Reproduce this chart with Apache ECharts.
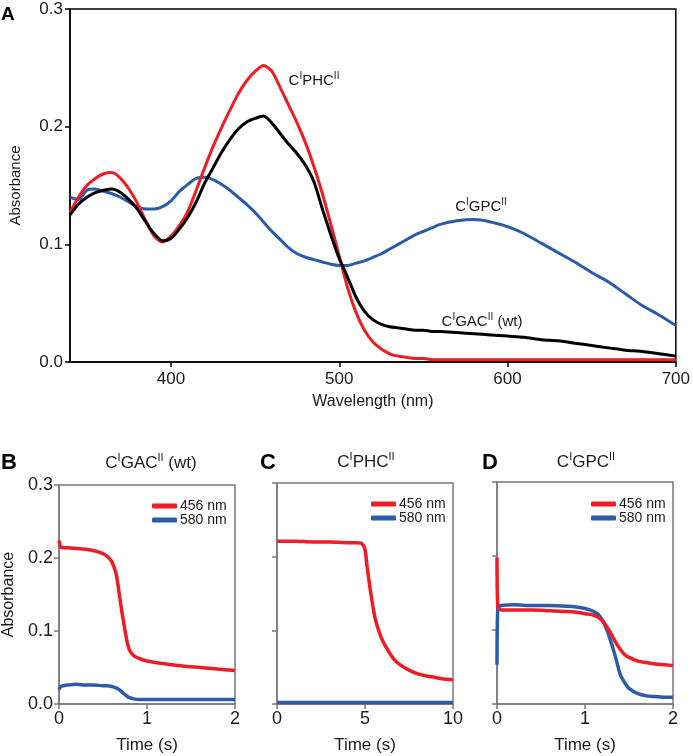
<!DOCTYPE html>
<html>
<head>
<meta charset="utf-8">
<script src="https://cdn.jsdelivr.net/npm/echarts@6/dist/echarts.min.js"></script>
<style>
  html, body { margin: 0; padding: 0; background: #fff; }
  #chart { width: 693px; height: 756px; }
</style>
</head>
<body>
<div id="chart"></div>
<script>
// ---------- Panel A: spectra ----------
const wavelengths = [340,345,350,355,360,365,370,375,380,385,390,395,400,405,410,415,420,425,430,435,440,445,450,455,460,465,470,475,480,485,490,495,500,505,510,515,520,525,530,535,540,545,550,555,560,570,580,590,600,610,620,630,640,650,660,670,680,690,700];
const specPHC = [0.127,0.140,0.150,0.156,0.160,0.161,0.156,0.147,0.135,0.120,0.107,0.102,0.107,0.116,0.128,0.146,0.165,0.183,0.199,0.214,0.228,0.239,0.247,0.252,0.247,0.233,0.218,0.203,0.186,0.166,0.143,0.117,0.090,0.063,0.042,0.027,0.017,0.011,0.007,0.005,0.004,0.003,0.003,0.002,0.002,0.002,0.002,0.002,0.002,0.002,0.002,0.002,0.002,0.002,0.002,0.002,0.002,0.002,0.002];
const specGAC = [0.125,0.134,0.140,0.144,0.146,0.147,0.144,0.138,0.130,0.119,0.109,0.103,0.105,0.113,0.123,0.136,0.152,0.165,0.178,0.189,0.198,0.204,0.207,0.209,0.203,0.194,0.185,0.177,0.167,0.153,0.130,0.108,0.088,0.072,0.055,0.043,0.036,0.032,0.030,0.029,0.028,0.027,0.027,0.026,0.026,0.025,0.024,0.023,0.022,0.021,0.019,0.018,0.016,0.014,0.012,0.010,0.009,0.007,0.005];
const specGPC = [0.140,0.138,0.146,0.147,0.145,0.143,0.140,0.136,0.132,0.130,0.130,0.132,0.137,0.145,0.151,0.156,0.157,0.155,0.151,0.146,0.140,0.134,0.127,0.119,0.111,0.104,0.097,0.092,0.089,0.087,0.085,0.083,0.082,0.082,0.084,0.086,0.089,0.092,0.096,0.100,0.104,0.108,0.111,0.114,0.117,0.120,0.121,0.119,0.115,0.109,0.101,0.093,0.085,0.076,0.068,0.058,0.048,0.040,0.031];
const wavelengthTicks = [400,500,600,700];

// ---------- Panel B: CIGACII (wt) kinetics ----------
const timeB = [0,0.02,0.05,0.1,0.2,0.3,0.4,0.5,0.55,0.6,0.65,0.68,0.7,0.72,0.74,0.76,0.78,0.8,0.85,0.9,1.0,1.2,1.4,1.6,1.8,2.0];
const b456 = [0.224,0.215,0.214,0.214,0.213,0.212,0.210,0.206,0.202,0.195,0.178,0.155,0.138,0.122,0.108,0.094,0.082,0.074,0.066,0.063,0.059,0.055,0.052,0.050,0.048,0.046];
const b580 = [0.020,0.024,0.025,0.026,0.027,0.026,0.026,0.025,0.025,0.024,0.022,0.020,0.018,0.016,0.014,0.012,0.010,0.009,0.007,0.006,0.006,0.006,0.006,0.006,0.006,0.006];

// ---------- Panel C: CIPHCII kinetics ----------
const timeC = [0,0.5,1,2,3,4,4.5,4.8,5.0,5.1,5.2,5.3,5.4,5.5,5.6,5.8,6.0,6.3,6.6,7.0,7.5,8.0,8.5,9.0,9.5,10];
const c456 = [0.221,0.221,0.221,0.220,0.220,0.219,0.219,0.218,0.210,0.190,0.172,0.155,0.140,0.125,0.114,0.098,0.086,0.073,0.062,0.053,0.046,0.041,0.038,0.036,0.034,0.033];
const c580 = [0.002,0.002,0.002,0.002,0.002,0.002,0.002,0.002,0.002,0.002,0.002,0.002,0.002,0.002,0.002,0.002,0.002,0.002,0.002,0.002,0.002,0.002,0.002,0.002,0.002,0.002];

// ---------- Panel D: CIGPCII kinetics ----------
const timeD = [0,0.01,0.05,0.2,0.4,0.6,0.8,0.9,1.0,1.1,1.15,1.2,1.25,1.3,1.35,1.4,1.45,1.5,1.6,1.7,1.8,1.9,2.0];
const d456 = [0.198,0.132,0.127,0.127,0.127,0.126,0.125,0.124,0.122,0.120,0.117,0.112,0.104,0.094,0.083,0.074,0.067,0.063,0.058,0.056,0.054,0.053,0.052];
const d580 = [0.053,0.130,0.133,0.134,0.133,0.133,0.132,0.131,0.129,0.125,0.121,0.113,0.100,0.082,0.062,0.040,0.029,0.021,0.014,0.011,0.010,0.009,0.009];

const legendNames = ['456 nm', '580 nm'];

const RED = '#ee1d24';
const BLUE = '#2a5caa';
const BLACK = '#000000';
const FONT = '"Liberation Sans", Arial, Helvetica, sans-serif';
const TXT = '#1a1a1a';

function pairs(xs, ys) { return xs.map((x, i) => [x, ys[i]]); }

const chart = echarts.init(document.getElementById('chart'), null, { renderer: 'canvas' });

const grids = [
  { left: 63, top: 9, width: 617, height: 353, show: true, borderColor: '#000', borderWidth: 1.5, backgroundColor: 'transparent' },
  { left: 58, top: 485, width: 177, height: 219, show: true, borderColor: '#7a7a7a', borderWidth: 1.5 },
  { left: 277, top: 483, width: 176, height: 221, show: true, borderColor: '#7a7a7a', borderWidth: 1.5 },
  { left: 497, top: 482, width: 176, height: 222, show: true, borderColor: '#7a7a7a', borderWidth: 1.5 }
];

function kinX(idx, max, interval) {
  return {
    gridIndex: idx, type: 'value', min: 0, max: max, interval: interval,
    axisLine: { show: true, lineStyle: { color: '#7a7a7a', width: 1.5 } },
    axisTick: { show: true, inside: false, length: 5, lineStyle: { color: '#7a7a7a', width: 1.5 } },
    axisLabel: { fontFamily: FONT, fontSize: 18, color: TXT, margin: 6 },
    splitLine: { show: false },
    name: 'Time (s)', nameLocation: 'middle', nameGap: 33,
    nameTextStyle: { fontFamily: FONT, fontSize: 17, color: TXT }
  };
}
function kinY(idx, showLabels) {
  const y = {
    gridIndex: idx, type: 'value', min: 0, max: 0.3, interval: 0.1,
    axisLine: { show: true, lineStyle: { color: '#7a7a7a', width: 1.5 } },
    axisTick: { show: true, length: 5, lineStyle: { color: '#7a7a7a', width: 1.5 } },
    axisLabel: { show: showLabels, fontFamily: FONT, fontSize: 18, color: TXT, margin: 6,
      formatter: v => v.toFixed(1) },
    splitLine: { show: false }
  };
  if (showLabels) {
    y.name = 'Absorbance'; y.nameLocation = 'middle'; y.nameGap = 42;
    y.nameTextStyle = { fontFamily: FONT, fontSize: 16, color: TXT };
  }
  return y;
}

const xAxes = [
  {
    gridIndex: 0, type: 'value', min: 340, max: 700,
    axisLine: { show: true, lineStyle: { color: '#000', width: 1.5 } },
    axisTick: { show: true, length: 5, customValues: wavelengthTicks, lineStyle: { color: '#000', width: 1.5 } },
    axisLabel: { customValues: wavelengthTicks, fontFamily: FONT, fontSize: 17, color: TXT, margin: 9 },
    splitLine: { show: false },
    name: 'Wavelength (nm)', nameLocation: 'middle', nameGap: 32,
    nameTextStyle: { fontFamily: FONT, fontSize: 16, color: TXT }
  },
  kinX(1, 2, 1), kinX(2, 10, 5), kinX(3, 2, 1)
];
const yAxes = [
  {
    gridIndex: 0, type: 'value', min: 0, max: 0.3, interval: 0.1,
    axisLine: { show: true, lineStyle: { color: '#000', width: 1.5 } },
    axisTick: { show: true, length: 5, lineStyle: { color: '#000', width: 1.5 } },
    axisLabel: { fontFamily: FONT, fontSize: 17, color: TXT, margin: 7, formatter: v => v.toFixed(1) },
    splitLine: { show: false },
    name: 'Absorbance', nameLocation: 'middle', nameGap: 47,
    nameTextStyle: { fontFamily: FONT, fontSize: 15, color: TXT }
  },
  kinY(1, true), kinY(2, false), kinY(3, false)
];

function line(name, xi, data, color, width, z) {
  return {
    type: 'line', name: name, xAxisIndex: xi, yAxisIndex: xi, data: data,
    showSymbol: false, symbol: 'none', smooth: 0.25, clip: true,
    lineStyle: { color: color, width: width }, itemStyle: { color: color }, z: z || 2
  };
}

const series = [
  line('CIGPCII', 0, pairs(wavelengths, specGPC), BLUE, 3, 2),
  line('CIPHCII', 0, pairs(wavelengths, specPHC), RED, 3, 3),
  line('CIGACII (wt)', 0, pairs(wavelengths, specGAC), BLACK, 3, 4),
  line('456 nm', 1, pairs(timeB, b456), RED, 3.5, 3),
  line('580 nm', 1, pairs(timeB, b580), BLUE, 3.5, 3),
  line('456 nm', 2, pairs(timeC, c456), RED, 3.5, 3),
  line('580 nm', 2, pairs(timeC, c580), BLUE, 3.5, 3),
  line('580 nm', 3, pairs(timeD, d580), BLUE, 3.5, 2),
  line('456 nm', 3, pairs(timeD, d456), RED, 3.5, 3)
];

function legendAt(left, top) {
  return {
    data: legendNames, left: left, top: top, orient: 'vertical', itemGap: 0,
    itemWidth: 25, itemHeight: 5, icon: 'roundRect', selectedMode: false,
    textStyle: { fontFamily: FONT, fontSize: 14, color: TXT, padding: [0, 0, 0, -2] }
  };
}

function richLabel(parts) {
  return parts.map(p => '{' + (p[1] ? 's' : 'n') + '|' + p[0] + '}').join('');
}
function richStyle(size, supSize) {
  return {
    n: { fontFamily: FONT, fontSize: size, lineHeight: size + 2, fill: TXT, verticalAlign: 'bottom' },
    s: { fontFamily: FONT, fontSize: supSize, lineHeight: supSize, fill: TXT, verticalAlign: 'top' }
  };
}
function richText(x, y, parts, size, supSize) {
  return {
    type: 'text', x: x, y: y,
    style: {
      text: richLabel(parts), rich: richStyle(size, supSize),
      textAlign: 'center', textVerticalAlign: 'middle', fill: TXT, font: size + 'px ' + FONT
    }
  };
}
function letter(x, y, t, size) {
  return {
    type: 'text', x: x, y: y,
    style: { text: t, font: 'bold ' + size + 'px ' + FONT, fill: '#000', textAlign: 'left', textVerticalAlign: 'top' }
  };
}

const graphics = [
  letter(1, 5, 'A', 19),
  letter(1, 452, 'B', 22),
  letter(260, 452, 'C', 22),
  letter(482, 452, 'D', 22),
  richText(314, 80, [['C', 0], ['I', 1], ['PHC', 0], ['II', 1]], 15, 10),
  richText(481, 206, [['C', 0], ['I', 1], ['GPC', 0], ['II', 1]], 15, 10),
  richText(482, 321, [['C', 0], ['I', 1], ['GAC', 0], ['II', 1], [' (wt)', 0]], 15, 10),
  richText(151, 462, [['C', 0], ['I', 1], ['GAC', 0], ['II', 1], [' (wt)', 0]], 17, 11),
  richText(366, 461, [['C', 0], ['I', 1], ['PHC', 0], ['II', 1]], 17, 11),
  richText(586, 461, [['C', 0], ['I', 1], ['GPC', 0], ['II', 1]], 17, 11)
];

chart.setOption({
  animation: false,
  backgroundColor: '#ffffff',
  grid: grids,
  xAxis: xAxes,
  yAxis: yAxes,
  series: series,
  legend: [legendAt(147, 494), legendAt(366, 492), legendAt(586, 492)],
  graphic: graphics
});
</script>
</body>
</html>
